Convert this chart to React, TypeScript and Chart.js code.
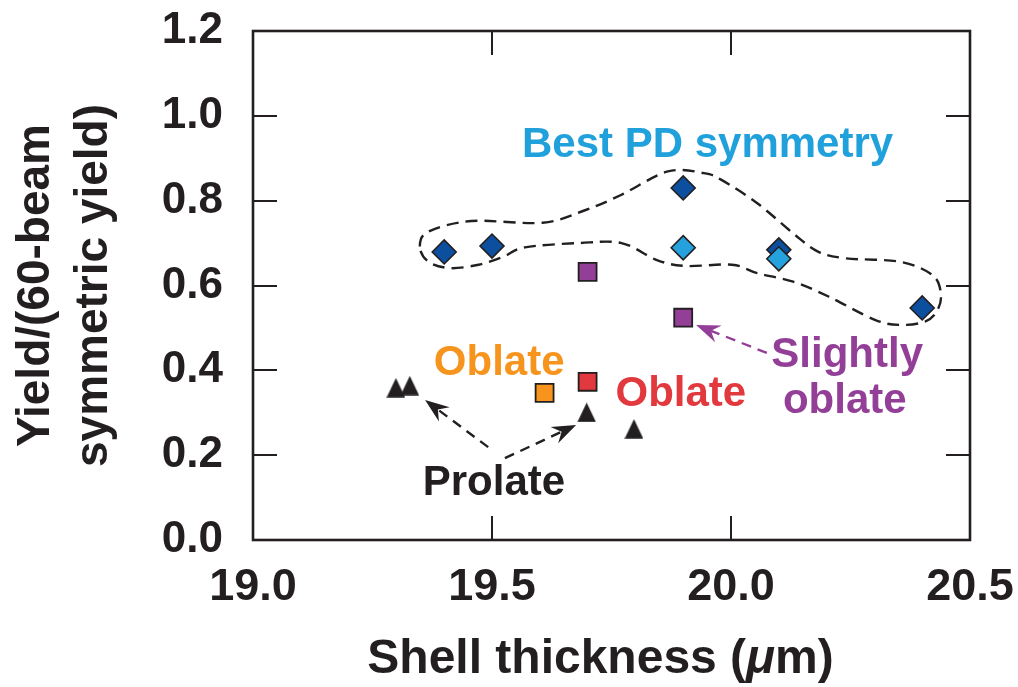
import React, { useEffect, useRef } from 'react';
import { Chart, registerables } from 'chart.js';

Chart.register(...registerables);

const FONT = '"Liberation Sans", Arial, Helvetica, sans-serif';
const INK = '#231f20';

// Axis ticks
const xTicks = [19.0, 19.5, 20.0, 20.5];
const yTicks = [0.0, 0.2, 0.4, 0.6, 0.8, 1.0, 1.2];

// Series
const darkDiamondX = [19.4, 19.5, 19.9, 20.1, 20.4];
const darkDiamondY = [0.679, 0.693, 0.83, 0.684, 0.547];
const lightDiamondX = [19.9, 20.1];
const lightDiamondY = [0.689, 0.663];
const purpleSquareX = [19.7, 19.9];
const purpleSquareY = [0.632, 0.524];
const orangeSquareX = [19.61];
const orangeSquareY = [0.347];
const redSquareX = [19.7];
const redSquareY = [0.373];
const triangleX = [19.299, 19.328, 19.698, 19.797];
const triangleY = [0.359, 0.364, 0.301, 0.262];

// Dashed enclosure ("Best PD symmetry" group), closed curve through these points
const outlineX = [19.349, 19.367, 19.457, 19.606, 19.696, 19.771, 19.868, 19.943, 19.98, 20.055, 20.13, 20.182, 20.241, 20.354, 20.421, 20.439, 20.432, 20.406, 20.354, 20.301, 20.204, 20.13, 20.055, 20.002, 19.905, 19.845, 19.771, 19.681, 19.569, 19.524, 19.472, 19.412, 19.367];
const outlineY = [0.692, 0.727, 0.752, 0.748, 0.778, 0.814, 0.869, 0.865, 0.849, 0.794, 0.723, 0.68, 0.664, 0.656, 0.625, 0.582, 0.542, 0.515, 0.507, 0.519, 0.574, 0.609, 0.629, 0.649, 0.646, 0.66, 0.7, 0.7, 0.69, 0.668, 0.649, 0.641, 0.656];

// Annotation texts (anchored in data coordinates)
const noteTexts = ['Best PD symmetry', 'Oblate', 'Oblate', 'Slightly', 'oblate', 'Prolate'];
const noteX = [19.951, 19.515, 19.895, 20.243, 20.238, 19.504];
const noteY = [0.903, 0.389, 0.316, 0.408, 0.3, 0.106];
const noteColors = ['#21a1dc', '#f7941e', '#e2393f', '#933f98', '#933f98', INK];

// Arrows: start -> tip
const arrowFromX = [19.492, 19.527, 20.075];
const arrowFromY = [0.219, 0.193, 0.441];
const arrowToX = [19.36, 19.676, 19.927];
const arrowToY = [0.33, 0.271, 0.507];
const arrowColors = [INK, INK, '#933f98'];

function pts(xs: number[], ys: number[]) {
  return xs.map((x, i) => ({ x, y: ys[i] }));
}

function makeTriangle(): HTMLCanvasElement {
  const c = document.createElement('canvas');
  c.width = 19;
  c.height = 20;
  const g = c.getContext('2d')!;
  g.fillStyle = INK;
  g.beginPath();
  g.moveTo(9.5, 0.3);
  g.lineTo(18.8, 19.7);
  g.lineTo(0.2, 19.7);
  g.closePath();
  g.fill();
  return c;
}

const decorPlugin = {
  id: 'decor',
  beforeDatasetsDraw(chart: any) {
    const { ctx, scales } = chart;
    const xs = scales.x;
    const ys = scales.y;
    ctx.save();
    // dashed enclosure
    const p = outlineX.map((v, i) => ({ x: xs.getPixelForValue(v), y: ys.getPixelForValue(outlineY[i]) }));
    const n = p.length;
    ctx.beginPath();
    ctx.moveTo(p[0].x, p[0].y);
    for (let i = 0; i < n; i++) {
      const p0 = p[(i - 1 + n) % n];
      const p1 = p[i];
      const p2 = p[(i + 1) % n];
      const p3 = p[(i + 2) % n];
      ctx.bezierCurveTo(
        p1.x + (p2.x - p0.x) / 6, p1.y + (p2.y - p0.y) / 6,
        p2.x - (p3.x - p1.x) / 6, p2.y - (p3.y - p1.y) / 6,
        p2.x, p2.y
      );
    }
    ctx.closePath();
    ctx.setLineDash([12, 7]);
    ctx.lineWidth = 2.4;
    ctx.strokeStyle = INK;
    ctx.stroke();

    // arrows
    for (let i = 0; i < arrowFromX.length; i++) {
      const x0 = xs.getPixelForValue(arrowFromX[i]);
      const y0 = ys.getPixelForValue(arrowFromY[i]);
      const x1 = xs.getPixelForValue(arrowToX[i]);
      const y1 = ys.getPixelForValue(arrowToY[i]);
      const ang = Math.atan2(y1 - y0, x1 - x0);
      const len = 24;
      const hw = 9;
      const notch = 8;
      const ux = Math.cos(ang);
      const uy = Math.sin(ang);
      const bx = x1 - ux * (len - notch);
      const by = y1 - uy * (len - notch);
      ctx.setLineDash([10, 7]);
      ctx.lineWidth = 2.4;
      ctx.strokeStyle = arrowColors[i];
      ctx.beginPath();
      ctx.moveTo(x0, y0);
      ctx.lineTo(bx, by);
      ctx.stroke();
      ctx.setLineDash([]);
      ctx.fillStyle = arrowColors[i];
      ctx.beginPath();
      ctx.moveTo(x1, y1);
      ctx.lineTo(x1 - ux * len - uy * hw, y1 - uy * len + ux * hw);
      ctx.lineTo(x1 - ux * (len - notch), y1 - uy * (len - notch));
      ctx.lineTo(x1 - ux * len + uy * hw, y1 - uy * len - ux * hw);
      ctx.closePath();
      ctx.fill();
    }

    // annotation texts
    ctx.setLineDash([]);
    ctx.font = `bold 42px ${FONT}`;
    ctx.textAlign = 'center';
    ctx.textBaseline = 'alphabetic';
    for (let i = 0; i < noteTexts.length; i++) {
      ctx.fillStyle = noteColors[i];
      ctx.fillText(noteTexts[i], xs.getPixelForValue(noteX[i]), ys.getPixelForValue(noteY[i]));
    }
    ctx.restore();
  },
  afterDraw(chart: any) {
    const { ctx, chartArea, scales } = chart;
    const { left, right, top, bottom } = chartArea;
    const xs = scales.x;
    const ys = scales.y;
    ctx.save();
    ctx.strokeStyle = INK;
    ctx.lineWidth = 2;
    const tl = 24;
    ctx.beginPath();
    xTicks.slice(1, -1).forEach((v) => {
      const px = Math.round(xs.getPixelForValue(v));
      ctx.moveTo(px, bottom);
      ctx.lineTo(px, bottom - tl);
      ctx.moveTo(px, top);
      ctx.lineTo(px, top + tl);
    });
    yTicks.slice(1, -1).forEach((v) => {
      const py = Math.round(ys.getPixelForValue(v));
      ctx.moveTo(left, py);
      ctx.lineTo(left + tl, py);
      ctx.moveTo(right, py);
      ctx.lineTo(right - tl, py);
    });
    ctx.stroke();
    ctx.lineWidth = 2.6;
    ctx.strokeRect(left, top, right - left, bottom - top);

    // x-axis title with italic mu
    const segs: [string, string][] = [
      ['Shell thickness (', `bold 48px ${FONT}`],
      ['\u03bc', `italic bold 48px ${FONT}`],
      ['m)', `bold 48px ${FONT}`],
    ];
    let total = 0;
    segs.forEach(([t, f]) => {
      ctx.font = f;
      total += ctx.measureText(t).width;
    });
    let cx = (left + right) / 2 - 11 - total / 2;
    const by = bottom + 133;
    ctx.fillStyle = INK;
    ctx.textAlign = 'left';
    ctx.textBaseline = 'alphabetic';
    segs.forEach(([t, f]) => {
      ctx.font = f;
      ctx.fillText(t, cx, by);
      cx += ctx.measureText(t).width;
    });
    ctx.restore();
  },
};

export default function App() {
  const ref = useRef<HTMLCanvasElement | null>(null);

  useEffect(() => {
    if (!ref.current) return;
    const tri = makeTriangle();
    Chart.defaults.font.family = FONT;
    const chart = new Chart(ref.current, {
      type: 'scatter',
      data: {
        datasets: [
          {
            label: 'Best PD (light)',
            data: pts(lightDiamondX, lightDiamondY),
            pointStyle: 'rectRot',
            pointRadius: 12,
            backgroundColor: '#25a2dd',
            borderColor: INK,
            borderWidth: 1.6,
            order: 1,
          },
          {
            label: 'Best PD (dark)',
            data: pts(darkDiamondX, darkDiamondY),
            pointStyle: 'rectRot',
            pointRadius: 12,
            backgroundColor: '#0b4f9e',
            borderColor: INK,
            borderWidth: 1.6,
            order: 2,
          },
          {
            label: 'Slightly oblate',
            data: pts(purpleSquareX, purpleSquareY),
            pointStyle: 'rect',
            pointRadius: 12.7,
            backgroundColor: '#933f98',
            borderColor: INK,
            borderWidth: 1.8,
            order: 3,
          },
          {
            label: 'Oblate (orange)',
            data: pts(orangeSquareX, orangeSquareY),
            pointStyle: 'rect',
            pointRadius: 12.7,
            backgroundColor: '#f7941e',
            borderColor: INK,
            borderWidth: 1.8,
            order: 4,
          },
          {
            label: 'Oblate (red)',
            data: pts(redSquareX, redSquareY),
            pointStyle: 'rect',
            pointRadius: 12.7,
            backgroundColor: '#e2393f',
            borderColor: INK,
            borderWidth: 1.8,
            order: 5,
          },
          {
            label: 'Prolate',
            data: pts(triangleX, triangleY),
            pointStyle: tri as any,
            pointRadius: 10,
            backgroundColor: INK,
            borderColor: INK,
            order: 6,
          },
        ],
      },
      options: {
        animation: false,
        responsive: true,
        maintainAspectRatio: false,
        events: [],
        layout: { padding: { top: 31, right: 48, left: 0, bottom: 0 } },
        plugins: { legend: { display: false }, tooltip: { enabled: false } },
        scales: {
          x: {
            type: 'linear',
            min: 19.0,
            max: 20.5,
            afterBuildTicks: (s: any) => {
              s.ticks = xTicks.map((v) => ({ value: v }));
            },
            afterFit: (s: any) => {
              s.height = 147;
              s.paddingLeft = 0;
              s.paddingRight = 0;
            },
            grid: { display: false, drawTicks: false },
            border: { display: false },
            ticks: {
              padding: 21,
              color: INK,
              font: { size: 45, weight: 'bold', family: FONT },
              maxRotation: 0,
              autoSkip: false,
              callback: (v: any) => Number(v).toFixed(1),
            },
          },
          y: {
            type: 'linear',
            min: 0,
            max: 1.2,
            afterBuildTicks: (s: any) => {
              s.ticks = yTicks.map((v) => ({ value: v }));
            },
            afterFit: (s: any) => {
              s.width = 253;
              s.paddingTop = 0;
              s.paddingBottom = 0;
            },
            grid: { display: false, drawTicks: false },
            border: { display: false },
            ticks: {
              padding: 30,
              color: INK,
              font: { size: 44, weight: 'bold', family: FONT },
              autoSkip: false,
              callback: (v: any) => Number(v).toFixed(1),
            },
            title: {
              display: true,
              text: ['Yield/(60-beam', 'symmetric yield)'],
              color: INK,
              font: { size: 46, weight: 'bold', family: FONT, lineHeight: 1.27 },
              padding: { top: 7, bottom: 0 },
            },
          },
        },
      },
      plugins: [decorPlugin],
    });
    return () => chart.destroy();
  }, []);

  return (
    <div style={{ position: 'absolute', left: 0, top: 0, width: 1018, height: 687 }}>
      <canvas ref={ref} />
    </div>
  );
}
